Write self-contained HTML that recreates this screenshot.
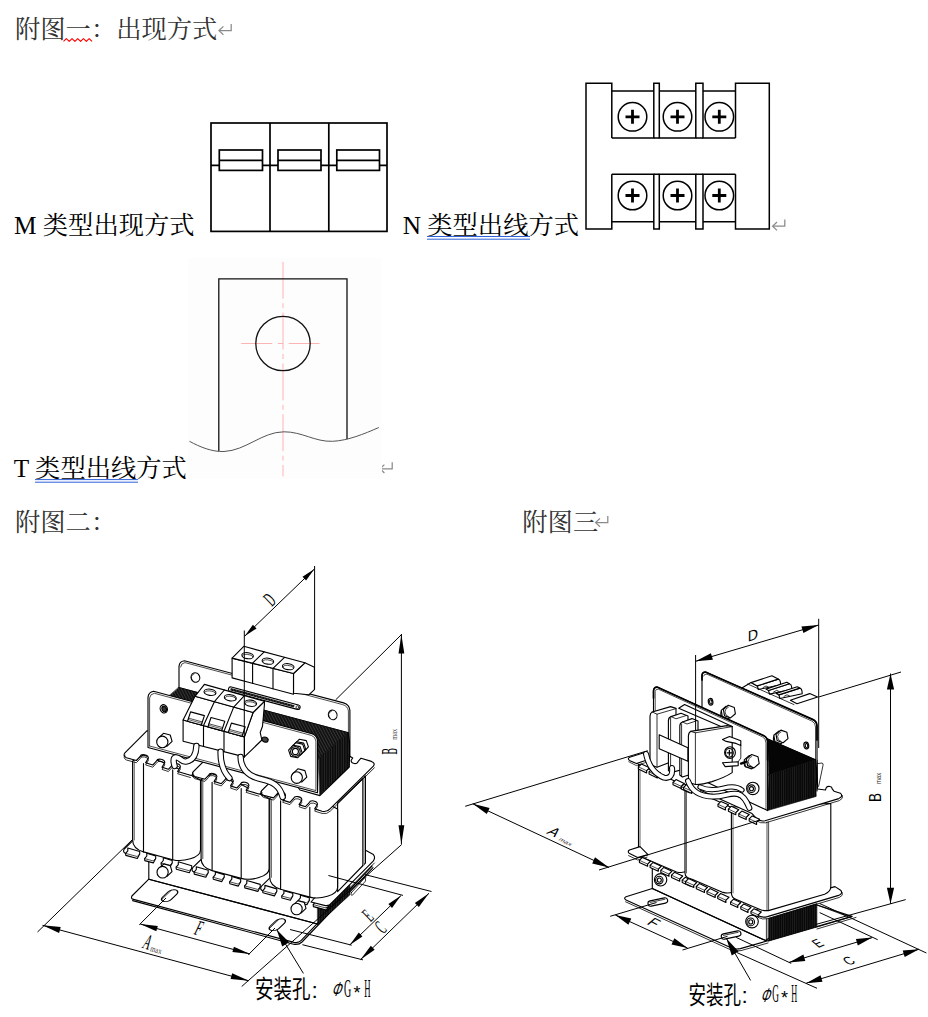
<!DOCTYPE html>
<html><head><meta charset="utf-8"><title>doc</title>
<style>html,body{margin:0;padding:0;background:#fff}body{width:928px;height:1017px;overflow:hidden;font-family:"Liberation Serif","Noto Serif CJK SC",serif}svg{display:block}text{font-family:"Liberation Serif","Noto Serif CJK SC",serif}.sans{font-family:"Liberation Sans","Noto Sans CJK SC",sans-serif}</style></head><body>
<svg width="928" height="1017" viewBox="0 0 928 1017">
<desc>附图一：出现方式 M 类型出现方式 N 类型出线方式 T 类型出线方式 附图二： 附图三 A max B max C D E F 安装孔: ΦG*H</desc>
<rect width="928" height="1017" fill="#fff"/>
<g id="text">
<text x="15" y="37.5" font-size="25.3" fill="#333">附图一：出现方式</text>
<path d="M63.5,41.4 l2.85,-2.8 l2.85,2.8 l2.85,-2.8 l2.85,2.8 l2.85,-2.8 l2.85,2.8 l2.85,-2.8 l2.85,2.8 l2.85,-2.8 l2.85,2.8" fill="none" stroke="#f00" stroke-width="1.1" stroke-linejoin="round"/>
<g fill="none" stroke="#8a8a8a" stroke-width="1.25"><path d="M231.2,24.0 V30.6 H219.2"/><path d="M223.4,26.400000000000002 L219.0,30.6 L223.4,34.800000000000004"/></g>
<text x="14" y="233.8" font-size="25.3" fill="#000">M 类型出现方式</text>
<text x="402.7" y="233.8" font-size="25.3" fill="#000">N 类型出线方式</text>
<path d="M427,236.5H530M427,239.2H530" stroke="#2f62d9" stroke-width="1" fill="none"/>
<g fill="none" stroke="#8a8a8a" stroke-width="1.25"><path d="M784.8000000000001,219.6 V226.2 H772.8000000000001"/><path d="M777.0,222.0 L772.6,226.2 L777.0,230.39999999999998"/></g>
<text x="13.8" y="476.5" font-size="25.3" fill="#000">T 类型出线方式</text>
<path d="M35,479.6H138M35,482.2H138" stroke="#2f62d9" stroke-width="1" fill="none"/>
<g fill="none" stroke="#8a8a8a" stroke-width="1.25"><path d="M392.20000000000005,462.2 V468.8 H380.20000000000005"/><path d="M384.40000000000003,464.6 L380.0,468.8 L384.40000000000003,473.0"/></g>
<text x="15" y="530.7" font-size="25.3" fill="#333">附图二：</text>
<text x="522.3" y="530.7" font-size="25.3" fill="#333">附图三</text>
<g fill="none" stroke="#8a8a8a" stroke-width="1.25"><path d="M607.8000000000001,516.0 V522.6 H595.8000000000001"/><path d="M600.0,518.4 L595.6,522.6 L600.0,526.8000000000001"/></g>
</g>
<g id="top">
<!-- M type -->
<g fill="none" stroke="#000" stroke-width="1.7" stroke-linejoin="miter">
<rect x="211" y="123" width="176" height="108.4"/>
<path d="M270,123V231.4M328.8,123V231.4"/>
<path d="M211,165.4H219.3M262.5,165.4H278M321,165.4H336.8M379.5,165.4H387"/>
<rect x="219.3" y="150" width="43.2" height="20.4"/><path d="M219.3,160.4H262.5"/>
<rect x="278" y="150" width="43" height="20.4"/><path d="M278,160.4H321"/>
<rect x="336.8" y="150" width="42.7" height="20.4"/><path d="M336.8,160.4H379.5"/>
</g>
<!-- N type -->
<g fill="none" stroke="#000" stroke-width="1.5" stroke-linejoin="miter">
<path d="M611.8,138V83.3H586V229H611.8V174.3"/>
<path d="M735.5,138V83.3H769.3V229H735.5V174.3"/>
<path d="M611.8,91H653.8M659.3,91H695.8M703,91H735.5"/>
<path d="M611.8,138H653.8V83.3H659.3V138H695.8V83.3H703V138H735.5"/>
<path d="M659.3,138H653.8M703,138H695.8"/>
<path d="M611.8,174.3H653.8V229H659.3V174.3H695.8V229H703V174.3H735.5"/>
<path d="M659.3,174.3H653.8M703,174.3H695.8"/>
<path d="M611.8,221.8H653.8M659.3,221.8H695.8M703,221.8H735.5"/>
<circle cx="632.5" cy="116.8" r="14.3"/><circle cx="677.5" cy="116.8" r="14.3"/><circle cx="719.3" cy="116.8" r="14.3"/>
<circle cx="632.5" cy="195.5" r="14.3"/><circle cx="677.5" cy="195.5" r="14.3"/><circle cx="719.3" cy="195.5" r="14.3"/>
</g>
<g fill="none" stroke="#000" stroke-width="2.8">
<path d="M625.5,116.8H639.5M632.5,109.8V123.8M670.5,116.8H684.5M677.5,109.8V123.8M712.3,116.8H726.3M719.3,109.8V123.8"/>
<path d="M625.5,195.5H639.5M632.5,188.5V202.5M670.5,195.5H684.5M677.5,188.5V202.5M712.3,195.5H726.3M719.3,188.5V202.5"/>
</g>
<!-- T type -->
<rect x="188" y="258" width="194" height="221" fill="#fdfdfd"/>
<g fill="none" stroke="#ffb4b4" stroke-width="1">
<path d="M283,261.8V476.3" stroke-dasharray="37 4.4 5 4.4"/>
<path d="M241.3,343.5H319.5" stroke-dasharray="31 5.6 5.2 5.6"/>
</g>
<g fill="none" stroke="#111" stroke-width="1.3">
<path d="M218.8,451.3V278.8H347V439.3"/>
<circle cx="283" cy="343.5" r="27.2"/>
</g>
<path d="M189.5,441.3C200,447 212,452 224,451.5C246,450.5 262,432 283.8,431.8C302,431.6 315,442 332.5,441.3C348,440.6 364,434 378.8,427.5" fill="none" stroke="#555" stroke-width="1"/>

</g>
<g id="left">
<defs><pattern id="hv" width="2.4" height="8" patternUnits="userSpaceOnUse"><rect width="2.4" height="8" fill="#0c0c0c"/><path d="M0.4,0V8" stroke="#4a4a4a" stroke-width="0.45"/></pattern><pattern id="hd" width="2.6" height="8" patternUnits="userSpaceOnUse" patternTransform="rotate(-28)"><rect width="2.6" height="8" fill="#121212"/><path d="M0.4,0V8" stroke="#5a5a5a" stroke-width="0.5"/></pattern><pattern id="hv2" width="2.2" height="8" patternUnits="userSpaceOnUse"><rect width="2.2" height="8" fill="#080808"/><path d="M0.4,0V8" stroke="#3c3c3c" stroke-width="0.4"/></pattern></defs>
<g fill="#fff" stroke="#000" stroke-width="1.12" stroke-linejoin="round" stroke-linecap="round">
<path d="M148.8,879.2 L131.9,896 Q130.6,898.6 133.5,899.4 L294,942.4 Q298.5,943.2 301,940.6 L372,866 L317.5,924 Z"/>
<path d="M148.8,879.2 L317.5,924" fill="none"/>
<path d="M132.6,900.6 L293.6,944.2 Q299,945 302,942 L373,867.6" fill="none"/>
<path d="M148.8,859 V879.2" fill="none"/>
<rect x="-8.3" y="-4.5" width="16.6" height="9.0" rx="4.5" transform="matrix(0.72 -0.69 0.966 0.259 169.6 895.7)"/><path d="M-7.1000000000000005,-3.2 H6.700000000000001" transform="matrix(0.72 -0.69 0.966 0.259 169.6 895.7)" fill="none" stroke-width="0.7"/>
<rect x="-8.3" y="-4.5" width="16.6" height="9.0" rx="4.5" transform="matrix(0.72 -0.69 0.966 0.259 277.3 924.7)"/><path d="M-7.1000000000000005,-3.2 H6.700000000000001" transform="matrix(0.72 -0.69 0.966 0.259 277.3 924.7)" fill="none" stroke-width="0.7"/>
<path d="M351.4,892.6 L364.6,878 Q366.6,876 365.4,878.6 L365.6,881 L352.4,895.2 Q350.4,896 351.4,892.6Z" stroke-width="0.8"/>
</g>
<g fill="#fff" stroke="#000" stroke-width="1.12" stroke-linejoin="round" stroke-linecap="round">
<path d="M179,690 V666.4 Q179.4,661.4 184.4,660.8 L343.6,702.9 Q349.4,704.6 349.9,710.4 V766 L348.4,732.7 L178.8,687.5 Z"/>
<path d="M180.6,667 Q181,663 185,662.6 L342.6,704.6 Q347.8,706 348.4,711 V733" fill="none" stroke-width="0.7"/>
<ellipse cx="195.4" cy="677.5" rx="4.3" ry="4.8" fill="none" transform="rotate(-20 195.4 677.5)"/>
<path d="M193.2,681.1 A3.6,4 -20 0 1 194,673.9" fill="none" stroke-width="0.7"/>
<ellipse cx="332.7" cy="714.9" rx="4.3" ry="4.8" fill="none" transform="rotate(-20 332.7 714.9)"/>
<path d="M330.5,718.5 A3.6,4 -20 0 1 331.3,711.3" fill="none" stroke-width="0.7"/>
<rect x="-37" y="-2.3" width="74" height="4.6" rx="2.3" transform="matrix(0.966 0.259 -0.259 0.966 264.3 698.2)"/>
<rect x="-35" y="-1.1" width="66" height="2.4" fill="url(#hd)" stroke="none" transform="matrix(0.966 0.259 -0.259 0.966 264.3 698.2)"/>
<circle cx="34.4" cy="0.2" r="1.5" transform="matrix(0.966 0.259 -0.259 0.966 264.3 698.2)" stroke-width="0.7"/>
<path d="M293.5,673.5 L304.9,662.8 L314.4,667.2 V689.6 L308.8,694.8 L293.5,693.3Z"/>
<path d="M232.1,658.1L293.5,673.5L293.5,694.2L232.1,677.9Z" fill="#fff"/>
<path d="M232.1,658.1L243.8,646.3L304.9,662.8L293.5,673.5Z" fill="#fff"/>
<path d="M264.2,651.8 L252.6,663.2 V683.3" fill="none"/>
<path d="M284.5,657.3 L273,668.4 V688.8" fill="none"/>
<ellipse cx="247.6" cy="655.7" rx="5.8" ry="3" fill="none" transform="rotate(8 247.6 655.7)"/>
<path d="M242.4,656.3 A5.4,2.4 8 0 1 253,656.9" fill="none" stroke-width="0.7"/>
<ellipse cx="267.9" cy="661.2" rx="5.8" ry="3" fill="none" transform="rotate(8 267.9 661.2)"/>
<path d="M262.7,661.8 A5.4,2.4 8 0 1 273.3,662.4" fill="none" stroke-width="0.7"/>
<ellipse cx="288.2" cy="666.7" rx="5.8" ry="3" fill="none" transform="rotate(8 288.2 666.7)"/>
<path d="M283,667.3 A5.4,2.4 8 0 1 293.6,667.9" fill="none" stroke-width="0.7"/>
<path d="M178.8,687.5 L348.4,732.7 L318.4,759 L148.8,713.8Z" fill="url(#hd)" stroke="#000" stroke-width="0.6"/>
<path d="M318.4,759 L348.4,732.7 L349.3,767 L319.9,795.6Z" fill="url(#hv)" stroke="#000" stroke-width="0.6"/>
<path d="M317.7,906.6 L349.8,884.6 L349.8,894.9 L317.7,924.4Z" fill="url(#hv)" stroke="#000" stroke-width="0.6"/>
<path d="M132.6,840.8 L124.2,849 Q122.4,852 125.6,853.4 " fill="none"/>
<path d="M127.8,850.8 L125.6,853.4 L125.8,855.4 L137.3,858.5 L139.7,854.1 L139.7,851.5 L127.8,848Z"/>
<path d="M125.6,853.4 L137.1,856.5 L139.7,854.1" fill="none" stroke-width="0.7"/>
<path d="M146.8,856 L144.6,858.6 L144.8,860.6 L153.3,862.9 L155.7,858.5 L155.7,855.9 L146.8,853.2Z"/>
<path d="M144.6,858.6 L153.1,860.9 L155.7,858.5" fill="none" stroke-width="0.7"/>
<path d="M163.3,860.5 L161.1,863.1 L161.3,865.1 L169.8,867.4 L172.2,863 L172.2,860.4 L163.3,857.7Z"/>
<path d="M161.1,863.1 L169.6,865.4 L172.2,863" fill="none" stroke-width="0.7"/>
<path d="M178.3,864.6 L176.1,867.2 L176.3,869.2 L189.3,872.7 L191.7,868.3 L191.7,865.7 L178.3,861.8Z"/>
<path d="M176.1,867.2 L189.1,870.7 L191.7,868.3" fill="none" stroke-width="0.7"/>
<path d="M201.1,859.5 L192.7,867.7 Q190.9,870.7 194.1,872.1 " fill="none"/>
<path d="M196.3,869.5 L194.1,872.1 L194.3,874.1 L205.8,877.2 L208.2,872.8 L208.2,870.2 L196.3,866.7Z"/>
<path d="M194.1,872.1 L205.6,875.2 L208.2,872.8" fill="none" stroke-width="0.7"/>
<path d="M215.3,874.7 L213.1,877.3 L213.3,879.3 L221.8,881.6 L224.2,877.2 L224.2,874.6 L215.3,871.9Z"/>
<path d="M213.1,877.3 L221.6,879.6 L224.2,877.2" fill="none" stroke-width="0.7"/>
<path d="M231.8,879.2 L229.6,881.8 L229.8,883.8 L238.3,886.1 L240.7,881.7 L240.7,879.1 L231.8,876.4Z"/>
<path d="M229.6,881.8 L238.1,884.1 L240.7,881.7" fill="none" stroke-width="0.7"/>
<path d="M246.8,883.3 L244.6,885.9 L244.8,887.9 L257.8,891.4 L260.2,887 L260.2,884.4 L246.8,880.5Z"/>
<path d="M244.6,885.9 L257.6,889.4 L260.2,887" fill="none" stroke-width="0.7"/>
<path d="M269.7,878.2 L261.3,886.4 Q259.5,889.4 262.7,890.8 " fill="none"/>
<path d="M264.9,888.2 L262.7,890.8 L262.9,892.8 L274.4,895.9 L276.8,891.5 L276.8,888.9 L264.9,885.4Z"/>
<path d="M262.7,890.8 L274.2,893.9 L276.8,891.5" fill="none" stroke-width="0.7"/>
<path d="M283.9,893.4 L281.7,896 L281.9,898 L290.4,900.3 L292.8,895.9 L292.8,893.3 L283.9,890.6Z"/>
<path d="M281.7,896 L290.2,898.3 L292.8,895.9" fill="none" stroke-width="0.7"/>
<path d="M300.4,897.9 L298.2,900.5 L298.4,902.5 L306.9,904.8 L309.3,900.4 L309.3,897.8 L300.4,895.1Z"/>
<path d="M298.2,900.5 L306.7,902.8 L309.3,900.4" fill="none" stroke-width="0.7"/>
<path d="M315.4,902 L313.2,904.6 L313.4,906.6 L326.4,910.1 L328.8,905.7 L328.8,903.1 L315.4,899.2Z"/>
<path d="M313.2,904.6 L326.2,908.1 L328.8,905.7" fill="none" stroke-width="0.7"/>
<path d="M311,902 L325.4,905.6 Q329.6,906 331.6,902.8 L373.2,861.2 Q375.8,857.6 373.4,854.6 L366,850.6 L330,880Z"/>
<path d="M326,907.6 Q331,908 333,904.8 L374.4,863" fill="none" stroke-width="0.8"/>
<path d="M337.6,803 V891.6 L365.4,863 V776 Z"/>
<path d="M363.6,778 V865" fill="none" stroke="#888" stroke-width="1.4"/>
<path d="M362.6,779 V866 M365.4,776 V862.6" fill="none" stroke-width="0.8"/>
<path d="M132.6,761 V839.7 C132.6,846.7 138.5,850.4 143.5,851.9 L172.7,859.7 C182.7,862.3 200.5,858 200.5,850 V779.9 L172.7,765.9 L143.5,755Z"/>
<path d="M134.2,762V840" fill="none" stroke-width="0.7"/>
<path d="M143.5,763.5V851.9M172.7,769.9V859.7" fill="none"/>
<path d="M201.1,779.7 V858.4 C201.1,865.4 207.1,869.1 212.1,870.6 L241.2,878.4 C251.2,881 269.1,876.7 269.1,868.7 V798.6 L241.2,784.6 L212.1,773.7Z"/>
<path d="M202.8,780.7V858.7" fill="none" stroke-width="0.7"/>
<path d="M212.1,782.2V870.6M241.2,788.6V878.4" fill="none"/>
<path d="M269.7,798.4 V877.1 C269.7,884.1 275.6,887.8 280.6,889.3 L309.8,897.1 C319.8,899.7 337.6,895.4 337.6,887.4 V809 L309.8,795 L280.6,792.4Z"/>
<path d="M271.3,799.4V877.4" fill="none" stroke-width="0.7"/>
<path d="M280.6,800.9V889.3M309.8,807.3V897.1" fill="none"/>
<path d="M172,871.6L167.3,876.1L160.9,874.4L159.2,868.4L163.9,863.9L170.3,865.6Z" fill="#fff"/><ellipse cx="162.6" cy="872.2" rx="5.6" ry="5.8" fill="#fff"/>
<path d="M306,908.4L301.3,912.9L294.9,911.2L293.2,905.2L297.9,900.7L304.3,902.4Z" fill="#fff"/><ellipse cx="296.6" cy="909" rx="5.6" ry="5.8" fill="#fff"/>
<path d="M147.1,730.7 L124.9,752.9 Q122.7,755.7 126.4,757.8 L136.4,760.5 l3.6,-3.9 a4.3,3 12 0 1 8.4,1.5 l-2.8,4.6 L152.8,765 l3.6,-3.9 a4.3,3 12 0 1 8.4,1.5 l-2.8,4.6 L168.4,769.3 l3.6,-3.9 a4.3,3 12 0 1 8.4,1.5 l-2.8,4.6 L190.4,775.3 Q193,775.5 192.6,772.7 L214.4,751.3Z"/>
<path d="M124.9,755.1 Q122.7,757.9 126.4,760 L136.4,762.7 l3.6,-3.9 a4.3,3 12 0 1 8.4,1.5 l-2.8,4.6 L152.8,767.2 l3.6,-3.9 a4.3,3 12 0 1 8.4,1.5 l-2.8,4.6 L168.4,771.5 l3.6,-3.9 a4.3,3 12 0 1 8.4,1.5 l-2.8,4.6 L190.4,777.5 " fill="none" stroke-width="0.8"/>
<path d="M215.7,749.4 L193.4,771.6 Q191.2,774.4 194.9,776.5 L204.9,779.2 l3.6,-3.9 a4.3,3 12 0 1 8.4,1.5 l-2.8,4.6 L221.3,783.7 l3.6,-3.9 a4.3,3 12 0 1 8.4,1.5 l-2.8,4.6 L236.9,788 l3.6,-3.9 a4.3,3 12 0 1 8.4,1.5 l-2.8,4.6 L258.9,794 Q261.6,794.2 261.1,791.4 L282.9,770Z"/>
<path d="M193.4,773.8 Q191.2,776.6 194.9,778.7 L204.9,781.4 l3.6,-3.9 a4.3,3 12 0 1 8.4,1.5 l-2.8,4.6 L221.3,785.9 l3.6,-3.9 a4.3,3 12 0 1 8.4,1.5 l-2.8,4.6 L236.9,790.2 l3.6,-3.9 a4.3,3 12 0 1 8.4,1.5 l-2.8,4.6 L258.9,796.2 " fill="none" stroke-width="0.8"/>
<path d="M284.2,768.1 L262,790.3 Q259.8,793.1 263.5,795.2 L273.5,797.9 l3.6,-3.9 a4.3,3 12 0 1 8.4,1.5 l-2.8,4.6 L289.9,802.4 l3.6,-3.9 a4.3,3 12 0 1 8.4,1.5 l-2.8,4.6 L305.5,806.7 l3.6,-3.9 a4.3,3 12 0 1 8.4,1.5 l-2.8,4.6 L322,811.2 Q327,812.4 330,808.8 L373.4,766.2 Q375.6,763.2 371.4,761.4 L361,758.2 l-3,3.4 a3.4,2.6 15 0 1 -6.8,-1.4 l1.5,-2.2 L349.5,756 L349.3,767 L319.9,795.6 L300,790Z"/>
<path d="M262,792.5 Q259.8,795.3 263.5,797.4 L273.5,800.1 l3.6,-3.9 a4.3,3 12 0 1 8.4,1.5 l-2.8,4.6 L289.9,804.6 l3.6,-3.9 a4.3,3 12 0 1 8.4,1.5 l-2.8,4.6 L305.5,808.9 l3.6,-3.9 a4.3,3 12 0 1 8.4,1.5 l-2.8,4.6 L322,813.4 Q327,814.6 330.4,811 L374.4,767.8" fill="none" stroke-width="0.8"/>
<path d="M148,747.5 V697.4 Q148.4,692.2 153.6,691.3 L312,733.7 Q317,735.4 317.5,740.6 V792.8 Z"/>
<path d="M149.6,746 V698 Q150,694 154.4,693.3 L311.4,735.4 Q315.4,736.8 315.9,741 V790.6 L149.6,746" fill="none" stroke-width="0.7"/>
<ellipse cx="163.8" cy="708.8" rx="3.6" ry="4.2" fill="none" transform="rotate(-20 163.8 708.8)"/>
<ellipse cx="164.2" cy="709" rx="2.2" ry="2.8" fill="#333" transform="rotate(-20 164.2 709)"/>
<path d="M172.1,741.4L167.1,746.1L160.4,744.4L158.5,738L163.5,733.3L170.2,735Z" fill="#fff"/><ellipse cx="162.3" cy="741.9" rx="5.6" ry="5.8" fill="#fff"/>
<path d="M308.4,746.9L303.8,751.8L296.9,750.4L294.8,744.1L299.4,739.2L306.3,740.6Z" fill="#fff"/><path d="M305.8,749.4L301.2,754.3L294.3,752.9L292.2,746.6L296.8,741.7L303.7,743.1Z" fill="#fff"/><path d="M304.8,750.4L300.2,755.3L293.3,753.9L291.2,747.6L295.8,742.7L302.7,744.1Z" fill="#fff"/><path d="M302.2,752.9L297.6,757.8L290.7,756.4L288.6,750.1L293.2,745.2L300.1,746.6Z" fill="#fff"/><ellipse cx="295.4" cy="751.5" rx="4.8" ry="4.9" fill="#fff"/><ellipse cx="295.4" cy="751.5" rx="3" ry="3.1" fill="#fff"/>
<path d="M306.8,777.2L301.7,782L294.7,780.2L292.8,773.6L297.9,768.8L304.9,770.6Z" fill="#fff"/><ellipse cx="296.8" cy="777.6" rx="5.6" ry="5.8" fill="#fff"/>
<path d="M253.1,712.5 L264.4,701.3 V705 L262.5,726.3 L260.2,732.5 L261.9,740 L244.4,756.9 L244.4,736.9Z"/>
<path d="M183.1,720L244.4,736.9L244.4,756.9L183.1,741.3Z" fill="#fff"/>
<path d="M195,696.3L253.1,712.5L244.4,736.9L183.1,720Z" fill="#fff"/>
<path d="M195,696.3L204.4,684.4L264.4,701.3L253.1,712.5Z" fill="#fff"/>
<path d="M224.4,690 L214.4,701.7 L203.5,725.6 L203.5,746.5" fill="none"/>
<path d="M244.4,695.7 L233.7,707.1 L224,731.3 L224,751.7" fill="none"/>
<ellipse cx="210" cy="692.3" rx="6" ry="3.1" fill="none" transform="rotate(8 210 692.3)"/>
<path d="M204.6,693 A5.6,2.5 8 0 1 215.6,693.6" fill="none" stroke-width="0.7"/>
<path d="M190.6,711.9L204.4,715.6L201.3,725L187.5,721.3Z" fill="#fff"/>
<path d="M188.6,718.2 L202.2,721.9" fill="none" stroke-width="0.7"/>
<path d="M188.3,719.6 L201.7,723.3" fill="none" stroke-width="0.6"/>
<ellipse cx="230.3" cy="697.8" rx="6" ry="3.1" fill="none" transform="rotate(8 230.3 697.8)"/>
<path d="M224.9,698.5 A5.6,2.5 8 0 1 235.9,699" fill="none" stroke-width="0.7"/>
<path d="M211,717.5L224.8,721.2L221.7,730.6L207.9,726.9Z" fill="#fff"/>
<path d="M209,723.8 L222.6,727.5" fill="none" stroke-width="0.7"/>
<path d="M208.7,725.2 L222.1,728.9" fill="none" stroke-width="0.6"/>
<ellipse cx="250.6" cy="703.2" rx="6" ry="3.1" fill="none" transform="rotate(8 250.6 703.2)"/>
<path d="M245.2,703.9 A5.6,2.5 8 0 1 256.2,704.5" fill="none" stroke-width="0.7"/>
<path d="M231.4,723.1L245.2,726.8L242.1,736.2L228.3,732.5Z" fill="#fff"/>
<path d="M229.4,729.4 L243,733.1" fill="none" stroke-width="0.7"/>
<path d="M229.1,730.8 L242.5,734.5" fill="none" stroke-width="0.6"/>
<ellipse cx="265" cy="739.6" rx="3.2" ry="2.4" fill="#444" transform="rotate(20 265 739.6)"/>
<path d="M196.4,746 C196,756 192,760.6 186,761.6 C181,762.4 180,756.6 175.6,757.4 C172.6,758 173.6,762.6 174.6,766" fill="none" stroke="#000" stroke-width="6.4"/><path d="M196.4,746 C196,756 192,760.6 186,761.6 C181,762.4 180,756.6 175.6,757.4 C172.6,758 173.6,762.6 174.6,766" fill="none" stroke="#fff" stroke-width="4.3"/>
<path d="M220.6,751.6 C220.4,762 222.6,771 229.4,778" fill="none" stroke="#000" stroke-width="6.4"/><path d="M220.6,751.6 C220.4,762 222.6,771 229.4,778" fill="none" stroke="#fff" stroke-width="4.3"/>
<path d="M240.6,757 C241,770 249,776.6 262,779.4 C273,781.8 280,786 282.6,797" fill="none" stroke="#000" stroke-width="6.4"/><path d="M240.6,757 C241,770 249,776.6 262,779.4 C273,781.8 280,786 282.6,797" fill="none" stroke="#fff" stroke-width="4.3"/>
</g>
<g fill="none" stroke="#000" stroke-width="1" stroke-linecap="butt">
<path d="M132.5,839.5L37.5,932"/>
<path d="M401.6,844.6L241.7,986.5"/>
<path d="M42.5,925.3L248.8,980.8"/><path d="M42.5,925.3L59.1,932.9L60.7,927.1Z" fill="#000" stroke="none"/><path d="M248.8,980.8L232.2,973.2L230.6,979Z" fill="#000" stroke="none"/>
<path d="M166,898L139.3,924.8"/>
<path d="M275,928L248.3,954.8"/>
<path d="M140.2,924L250,954"/><path d="M140.2,924L156.3,931.3L157.8,925.9Z" fill="#000" stroke="none"/><path d="M250,954L233.9,946.7L232.4,952.1Z" fill="#000" stroke="none"/>
<path d="M335.5,700L402,634"/>
<path d="M401.4,634.5L401.4,844.3"/><path d="M401.4,634.5L398.5,653.5L404.3,653.5Z" fill="#000" stroke="none"/><path d="M401.4,844.3L404.3,825.3L398.5,825.3Z" fill="#000" stroke="none"/>
<path d="M365,874.6L431.5,891.5"/>
<path d="M302.4,944.7L363,959.9"/>
<path d="M429,893.2L360.6,959.6"/><path d="M429,893.2L414.9,903L418.8,907.1Z" fill="#000" stroke="none"/><path d="M360.6,959.6L374.7,949.8L370.8,945.7Z" fill="#000" stroke="none"/>
<path d="M328.4,875.5L403,895.4"/>
<path d="M290,929.5L351.7,945.2"/>
<path d="M401,895.6L349.8,944.9"/><path d="M401,895.6L388.4,904.1L392,907.9Z" fill="#000" stroke="none"/><path d="M349.8,944.9L362.4,936.4L358.8,932.6Z" fill="#000" stroke="none"/>
<path d="M244.3,630.5L244.3,757.5"/>
<path d="M314.6,566L314.6,689.5"/>
<path d="M244.6,636.3L314.4,569"/><path d="M244.6,636.3L256.5,628.5L252.9,624.7Z" fill="#000" stroke="none"/><path d="M314.4,569L302.5,576.8L306.1,580.6Z" fill="#000" stroke="none"/>
<path d="M276.8,929.8L303.4,973.4"/>
<path d="M276.8,929.8L282.2,946.4L289.1,942.2Z" fill="#000" stroke="none"/>
</g>
<g>
<text transform="translate(196 934.8) rotate(15) skewX(-10) scale(0.5 1)" x="0" y="0" font-size="21.8" text-anchor="middle" fill="#000">F</text>
<text transform="translate(144.8 948.8) rotate(15) skewX(-10) scale(0.47 1)" x="0" y="0" font-size="21.8" text-anchor="middle" fill="#000">A</text>
<text transform="translate(155.4 952.6) rotate(15) scale(0.78 1)" x="0" y="0" font-size="8.7" text-anchor="middle" fill="#444">max</text>
<text transform="translate(397.4 751.3) rotate(-90) scale(0.43 1)" x="0" y="0" font-size="22.7" text-anchor="middle" fill="#000">B</text>
<text transform="translate(397.4 734.2) rotate(-90) scale(0.73 1)" x="0" y="0" font-size="8.7" text-anchor="middle" fill="#444">max</text>
<text transform="translate(372.6 920.4) rotate(-44) scale(0.46 1)" x="0" y="0" font-size="20.8" text-anchor="middle" fill="#000">E</text>
<text transform="translate(385.4 932.4) rotate(-44) scale(0.46 1)" x="0" y="0" font-size="20.8" text-anchor="middle" fill="#000">C</text>
<text transform="translate(274.4 604.4) rotate(-44) scale(0.48 1)" x="0" y="0" font-size="20.8" text-anchor="middle" fill="#000">D</text>
<text class="sans" transform="translate(255 998) scale(0.74 1)" x="0" y="0" font-size="25" fill="#000">安装孔</text>
<text class="sans" x="314.7" y="997.7" font-size="22.6" text-anchor="middle" fill="#000">:</text>
<text class="sans" transform="translate(335.8 996) skewX(-18) scale(0.6 1)" x="0" y="0" font-size="20" text-anchor="middle" fill="#000">Φ</text>
<text transform="translate(347.7 996.6) scale(0.4 1)" x="0" y="0" font-size="25" text-anchor="middle" fill="#000">G</text>
<text class="sans" x="357.1" y="998.5" font-size="18" text-anchor="middle" fill="#000">*</text>
<text transform="translate(367.4 996.6) scale(0.35 1)" x="0" y="0" font-size="25" text-anchor="middle" fill="#000">H</text>
</g>
</g>
<g id="right">
<g fill="#fff" stroke="#000" stroke-width="1.12" stroke-linejoin="round" stroke-linecap="round">
<path d="M652.3,888.5 L626,896.7 Q623.2,898.2 626,900 L731,947.8 Q735.6,949.8 740.4,948.6 L767,941 L852,916.4 L817,905 L765.6,940.5 Z"/>
<path d="M652.3,888.5 L765.6,940.5" fill="none"/>
<path d="M625.6,901.8 L730.6,949.8 Q735.6,951.8 741,950.6 L768,943" fill="none" stroke-width="0.8"/>
<path d="M652.3,868.3 V888.5" fill="none"/>
<path d="M817,927 L852,916.6 M817,929 L856,917.4 M818,905.4 L846,915.8" fill="none" stroke-width="0.8"/>
<rect x="647.8" y="899.3" width="20" height="5.4" rx="2.7" transform="rotate(-12 657.8 902)"/><path d="M650.2,900.8 H665.4" transform="rotate(-12 657.8 902)" fill="none" stroke-width="0.7"/>
<rect x="721.1" y="932.3" width="20" height="5.4" rx="2.7" transform="rotate(-12 731.1 935)"/><path d="M723.5,933.8 H738.7" transform="rotate(-12 731.1 935)" fill="none" stroke-width="0.7"/>
<path d="M768.4,918.4 L816.9,903.5 L816.9,927 L768.4,941.2Z" fill="url(#hv2)" stroke-width="0.6"/>
<path d="M766.4,919 V940.8" fill="none" stroke-width="0.8"/>
<path d="M752,911 L758,915.6 Q762,918 767.4,916.6 L838.6,895.4 Q843.4,893.4 840.6,890.2 L835,886.6 L770,905Z"/>
<path d="M758.4,917.6 Q762.4,920 768,918.6 L839.4,897.4 Q843.6,895.6 842.4,892.6" fill="none" stroke-width="0.8"/>
<path d="M638.5,764.3 V852.6 C638.5,856.6 641.5,857.6 645.6,858.8 L676.5,872 C681.5,873.2 688.5,871.6 692.5,869.6 V789.3Z"/><path d="M640,764.9 V852.6" fill="none" stroke-width="0.6"/>
<path d="M685,786.1 V873 C685,877 688,878 692.1,879.2 L723,892.4 C728,893.6 735,892 739,890 V811.1Z"/><path d="M686.5,786.7 V873" fill="none" stroke-width="0.6"/>
<path d="M731.4,807 V893 C731.4,897 733.6,898.6 736.4,899.6 L760,909.4 Q764,911 768.4,910.6 L824.6,894.2 Q830.8,892 830.8,886.6 V803.5 Z"/>
<path d="M767,822 V910.6 M768.6,822 V910.4" fill="none" stroke-width="0.7"/>
<path d="M733,808 V893" fill="none" stroke-width="0.6"/>
<path d="M640,846.6 L629.4,850 Q627,851.8 629.6,853.6 L637.6,857.6 L648,854.6Z"/>
<path d="M628.6,855.6 L637.6,860 L647,857.2" fill="none" stroke-width="0.8"/>
<path d="M642.4,857.4L650.6,861.2L647.6,864.1L647.6,866.3L639.4,862.5L639.4,860.3Z" fill="#fff"/><path d="M639.4,860.3 L647.6,864.1 L650.6,861.2" fill="none" stroke-width="0.7"/><path d="M653.1,862.4L661.3,866.2L658.3,869.1L658.3,871.3L650.1,867.5L650.1,865.3Z" fill="#fff"/><path d="M650.1,865.3 L658.3,869.1 L661.3,866.2" fill="none" stroke-width="0.7"/><path d="M663.8,867.4L672,871.2L669,874.1L669,876.3L660.8,872.5L660.8,870.3Z" fill="#fff"/><path d="M660.8,870.3 L669,874.1 L672,871.2" fill="none" stroke-width="0.7"/><path d="M674.5,872.3L682.7,876.1L679.7,879L679.7,881.2L671.5,877.4L671.5,875.2Z" fill="#fff"/><path d="M671.5,875.2 L679.7,879 L682.7,876.1" fill="none" stroke-width="0.7"/><path d="M685.2,877.3L693.4,881.1L690.4,884L690.4,886.2L682.2,882.4L682.2,880.2Z" fill="#fff"/><path d="M682.2,880.2 L690.4,884 L693.4,881.1" fill="none" stroke-width="0.7"/>
<path d="M688.6,878.6L696.8,882.4L693.8,885.3L693.8,887.5L685.6,883.7L685.6,881.5Z" fill="#fff"/><path d="M685.6,881.5 L693.8,885.3 L696.8,882.4" fill="none" stroke-width="0.7"/><path d="M699.3,883.6L707.5,887.4L704.5,890.3L704.5,892.5L696.3,888.7L696.3,886.5Z" fill="#fff"/><path d="M696.3,886.5 L704.5,890.3 L707.5,887.4" fill="none" stroke-width="0.7"/><path d="M710,888.6L718.2,892.4L715.2,895.3L715.2,897.5L707,893.7L707,891.5Z" fill="#fff"/><path d="M707,891.5 L715.2,895.3 L718.2,892.4" fill="none" stroke-width="0.7"/><path d="M720.7,893.5L728.9,897.3L725.9,900.2L725.9,902.4L717.7,898.6L717.7,896.4Z" fill="#fff"/><path d="M717.7,896.4 L725.9,900.2 L728.9,897.3" fill="none" stroke-width="0.7"/>
<path d="M733.6,899.2L740.8,902.5L737.8,905.4L737.8,907.6L730.6,904.3L730.6,902.1Z" fill="#fff"/><path d="M730.6,902.1 L737.8,905.4 L740.8,902.5" fill="none" stroke-width="0.7"/><path d="M743.8,903.9L751,907.3L748,910.2L748,912.4L740.8,909L740.8,906.8Z" fill="#fff"/><path d="M740.8,906.8 L748,910.2 L751,907.3" fill="none" stroke-width="0.7"/><path d="M754,908.7L761.2,912L758.2,914.9L758.2,917.1L751,913.8L751,911.6Z" fill="#fff"/><path d="M751,911.6 L758.2,914.9 L761.2,912" fill="none" stroke-width="0.7"/>
<ellipse cx="660.6" cy="879.8" rx="6.2" ry="6.2" fill="#fff"/><ellipse cx="659.3" cy="880.1" rx="3.7" ry="3.8" fill="#fff"/><ellipse cx="659.3" cy="880.1" rx="2" ry="2.1" fill="#fff"/>
<ellipse cx="752" cy="921.6" rx="6.3" ry="6.3" fill="#fff"/><ellipse cx="750.7" cy="921.9" rx="3.8" ry="3.9" fill="#fff"/><ellipse cx="750.7" cy="921.9" rx="2" ry="2.1" fill="#fff"/>
<path d="M700,790 L752,813.6 L756.4,818.4 Q760,821.8 765,820.8 L838.8,798.6 Q843.6,796.4 840.4,793.2 L834,791.2 l-2,-2.6 a3,2 0 0 0 -5.6,-1.2 l-1,2.6 L817.6,789 L817,760 L702,730Z"/>
<path d="M756.4,820.6 Q760,823.8 765.6,822.8 L839.4,800.6 Q843.4,798.8 842.6,795.6" fill="none" stroke-width="0.8"/>
<path d="M645.6,752.2 L629.6,757.2 Q627.2,758.8 629.4,760.4 L636.4,763.6 L647,760Z"/>
<path d="M628.8,761.8 L636.4,765.6 L646,762.4" fill="none" stroke-width="0.7"/>
<path d="M641.4,764L649.6,767.8L646.6,770.7L646.6,772.9L638.4,769.1L638.4,766.9Z" fill="#fff"/><path d="M638.4,766.9 L646.6,770.7 L649.6,767.8" fill="none" stroke-width="0.7"/><path d="M652.1,769L660.3,772.8L657.3,775.7L657.3,777.9L649.1,774.1L649.1,771.9Z" fill="#fff"/><path d="M649.1,771.9 L657.3,775.7 L660.3,772.8" fill="none" stroke-width="0.7"/><path d="M684.2,783.9L692.4,787.7L689.4,790.6L689.4,792.8L681.2,789L681.2,786.8Z" fill="#fff"/><path d="M681.2,786.8 L689.4,790.6 L692.4,787.7" fill="none" stroke-width="0.7"/>
<path d="M676,779.6L684.2,783.4L681.2,786.3L681.2,788.5L673,784.7L673,782.5Z" fill="#fff"/><path d="M673,782.5 L681.2,786.3 L684.2,783.4" fill="none" stroke-width="0.7"/><path d="M686.6,784.5L694.8,788.3L691.8,791.2L691.8,793.4L683.6,789.6L683.6,787.4Z" fill="#fff"/><path d="M683.6,787.4 L691.8,791.2 L694.8,788.3" fill="none" stroke-width="0.7"/>
<path d="M721,801.4L728.4,804.8L725.4,807.7L725.4,809.9L718,806.5L718,804.3Z" fill="#fff"/><path d="M718,804.3 L725.4,807.7 L728.4,804.8" fill="none" stroke-width="0.7"/><path d="M731.4,806.2L738.8,809.7L735.8,812.6L735.8,814.8L728.4,811.3L728.4,809.1Z" fill="#fff"/><path d="M728.4,809.1 L735.8,812.6 L738.8,809.7" fill="none" stroke-width="0.7"/><path d="M741.8,811.1L749.2,814.5L746.2,817.4L746.2,819.6L738.8,816.2L738.8,814Z" fill="#fff"/><path d="M738.8,814 L746.2,817.4 L749.2,814.5" fill="none" stroke-width="0.7"/><path d="M752.2,815.9L759.6,819.3L756.6,822.2L756.6,824.4L749.2,821L749.2,818.8Z" fill="#fff"/><path d="M749.2,818.8 L756.6,822.2 L759.6,819.3" fill="none" stroke-width="0.7"/>
</g>
<g fill="#fff" stroke="#000" stroke-width="1.12" stroke-linejoin="round" stroke-linecap="round">
<path d="M742.3,687.8 L751,682.5 L770.9,676.2 L778.2,679.1 L809.7,693.6 L818.6,697.6 L818.6,706 L790,709Z" stroke="none"/>
<path d="M742.3,687.8 L751,682.5 L757.3,685.9" fill="none"/>
<path d="M757.3,685.9 L778.2,679.1 Q780.2,679.7 780.4,682.1 L780.6,684.7 L758.3,689.5Z"/><path d="M757.3,685.9 L751,682.6 L771.9,675.8 L778.2,679.1Z"/>
<path d="M768.5,690.5 L789.4,683.7 Q791.4,684.3 791.6,686.7 L791.8,689.3 L769.5,694.1Z"/><path d="M768.5,690.5 L765.9,689.1 L786.8,682.3 L789.4,683.7Z"/>
<path d="M778.9,694.9 L799.8,688.1 Q801.8,688.7 802,691.1 L802.2,693.7 L779.9,698.5Z"/><path d="M778.9,694.9 L776.3,693.5 L797.2,686.7 L799.8,688.1Z"/>
<path d="M790.4,700.2 L809.7,693.6 L817.6,697 L797,703.8Z"/>
<path d="M747.6,684 L794,704.6 M763,687.6 l3,-1.6 l2.4,1 M773.6,692 l3,-1.6 l2.4,1 M784,696.4 l3,-1.6 l2.4,1" fill="none" stroke-width="0.8"/>
<path d="M702,710 V675.4 Q702.4,671.6 706,672.2 L812.6,719.4 Q817,721.4 817,726 V791 L815.5,759.8 L767.8,739.1 L702,710Z"/>
<path d="M703.6,676 Q704,673.6 707,674.2 L811.8,721 Q815.5,722.8 815.5,727 V760" fill="none" stroke-width="0.7"/>
<path d="M702,680 V675.4 Q702.4,671.6 706,672.2 L812.6,719.4 Q817,721.4 817,726 V740" fill="none" stroke-width="1.7"/>
<ellipse cx="710.6" cy="701.8" rx="2.3" ry="3.4" fill="none" transform="rotate(-10 710.6 701.8)"/>
<ellipse cx="710.8" cy="701.9" rx="1.2" ry="2.2" fill="none" transform="rotate(-10 710.8 701.9)"/>
<ellipse cx="806.3" cy="745.5" rx="2.4" ry="3.4" fill="none" transform="rotate(-10 806.3 745.5)"/>
<ellipse cx="806.5" cy="745.6" rx="1.2" ry="2.2" fill="none" transform="rotate(-10 806.5 745.6)"/>
<path d="M817.4,763.6 L822,763 Q823.6,763.4 823,765.4 L818.6,786.4" fill="none" stroke-width="0.8"/>
<path d="M767.8,739.1 L815.5,759.8 L768.5,774.8Z" fill="#050505" stroke-width="0.6"/>
<path d="M768.5,774.8 L815.5,759.8 L816.2,796.4 L767.4,810.6Z" fill="url(#hv2)" stroke-width="0.6"/>
<ellipse cx="723.4" cy="713.8" rx="2.6" ry="3.4" fill="#fff"/><path d="M733.2,714.8L728.3,718.9L722.3,716.7L721.2,710.4L726.1,706.3L732.1,708.5Z" fill="#fff"/><path d="M735.4,713.8L730.5,717.9L724.5,715.7L723.4,709.4L728.3,705.3L734.3,707.5Z" fill="#fff"/><path d="M728.4,707.1 A5.1,5.1 0 0 0 728.4,716.7" fill="none" stroke-width="0.7"/>
<ellipse cx="776" cy="738.6" rx="2.6" ry="3.4" fill="#fff"/><path d="M785.8,739.6L780.9,743.7L774.9,741.5L773.8,735.2L778.7,731.1L784.7,733.3Z" fill="#fff"/><path d="M788,738.6L783.1,742.7L777.1,740.5L776,734.2L780.9,730.1L786.9,732.3Z" fill="#fff"/><path d="M781,731.9 A5.1,5.1 0 0 0 781,741.5" fill="none" stroke-width="0.7"/>
<path d="M653.5,716 V691 Q653.8,686.6 657.6,687.2 L763.4,735.4 Q767.6,737.4 767.6,742 V810.6 L700,779 Z"/>
<path d="M655.2,716 V691.6 Q655.6,688.6 658.4,689.2 L762.4,736.8 Q766,738.6 766,743 V809" fill="none" stroke-width="0.7"/>
<path d="M653.5,698 V691 Q653.8,686.6 657.6,687.2 L763.4,735.4 Q767.6,737.4 767.6,742 V760" fill="none" stroke-width="1.7"/>
<ellipse cx="746.8" cy="763.4" rx="2.6" ry="3.4" fill="#fff"/><path d="M757,764.5L751.8,768.9L745.4,766.6L744.2,759.9L749.4,755.5L755.8,757.8Z" fill="#fff"/><path d="M759.2,763.5L754,767.9L747.6,765.6L746.4,758.9L751.6,754.5L758,756.8Z" fill="#fff"/><path d="M751.8,756.4 A5.4,5.4 0 0 0 751.8,766.6" fill="none" stroke-width="0.7"/>
<path d="M741,763.6 L746.4,761.6" fill="none" stroke-width="2.2"/>
<ellipse cx="752.8" cy="788.4" rx="6.2" ry="6.2" fill="#fff"/><ellipse cx="751.5" cy="788.7" rx="3.7" ry="3.8" fill="#fff"/><ellipse cx="751.5" cy="788.7" rx="2" ry="2.1" fill="#fff"/>
</g>
<g fill="#fff" stroke="#000" stroke-width="1.12" stroke-linejoin="round" stroke-linecap="round">
<path d="M678.7,708.3 L684.6,704.5 L732.2,726.6 L726.2,728.8Z"/>
<path d="M650,716.2 Q650.2,713 652.2,712 L670.6,706.6 L676,708.4 L676,760 L657,767.2 L652,765.4 Q650,764.4 650,762Z"/>
<path d="M657,714.2 V767 M652.2,712 L657,714.2 L676,708.6" fill="none" stroke-width="0.8"/>
<path d="M668.4,720.6 Q668.6,717.4 671,716.6 L681,713.2 L688,716 V768 L671,772.6 L668.4,770.6Z"/>
<path d="M670.6,718.4 V772 M671,716.6 L676,718.8 L686,715.6" fill="none" stroke-width="0.8"/>
<path d="M679.8,726 Q680,722.8 682.4,722 L692,718.6 L698,721 V772 L682.4,777 L679.8,775Z"/>
<path d="M681.6,724 V776.4 M682.4,722 L687,724 L696,721" fill="none" stroke-width="0.8"/>
<path d="M659.2,734.8 L687.9,747.7 V761.2 L659.2,748.8Z"/>
<path d="M688.4,736 Q688.6,732.4 690.6,731.4 L727,725.6 L732.2,726.6 V772.6 C727,776 720,779 712,781.6 C704,784 700,784.6 695.4,784.5 L690.6,783 Q688.4,781.6 688.4,779Z"/>
<path d="M695.4,732.8 V784.4 M690.6,731.4 L695.4,732.8 L732.2,726.6" fill="none" stroke-width="0.8"/>
<path d="M722.5,739.6 L729.5,736.4 L740.8,740.7 V745.6 L736,743.4 L726.2,741.4Z"/>
<path d="M722.5,762.8 L738.2,761.8 V765.6 L725.2,766.6Z"/>
<path d="M740.8,745.6 V758 L738.2,761.8" fill="none" stroke-width="0.8"/>
<ellipse cx="730" cy="752.6" rx="5.4" ry="5.8" fill="none"/>
<ellipse cx="729.4" cy="752.8" rx="3.9" ry="4.3" fill="none"/>
<path d="M727.2,752.8 H731.6 M729.4,750.4 V755.2" fill="none" stroke-width="1.3"/>
</g>
<path d="M646,754 C648,764 654,774 664,777.6 C670,779 673,775 672,768" fill="none" stroke="#000" stroke-width="6.0" stroke-linecap="round"/><path d="M646,754 C648,764 654,774 664,777.6 C670,779 673,775 672,768" fill="none" stroke="#fff" stroke-width="3.9" stroke-linecap="round"/>
<path d="M688,781 C692,792 700,796 712,796.6 C724,797.2 730,792 738,794 C744,795.6 747,802 749.4,808" fill="none" stroke="#000" stroke-width="6.0" stroke-linecap="round"/><path d="M688,781 C692,792 700,796 712,796.6 C724,797.2 730,792 738,794 C744,795.6 747,802 749.4,808" fill="none" stroke="#fff" stroke-width="3.9" stroke-linecap="round"/>
<path d="M700,787 C706,790 716,790 724,788 C732,786 738,787 742,790" fill="none" stroke="#000" stroke-width="5.300000000000001" stroke-linecap="round"/><path d="M700,787 C706,790 716,790 724,788 C732,786 738,787 742,790" fill="none" stroke="#fff" stroke-width="3.2" stroke-linecap="round"/>
<g fill="none" stroke="#000" stroke-width="1" stroke-linecap="butt">
<path d="M647.8,750.7L465.2,806.3"/>
<path d="M760,820L599,870"/>
<path d="M472.8,803.8L609,867.5"/><path d="M472.8,803.8L486.8,814.1L489.6,807.9Z" fill="#000" stroke="none"/><path d="M609,867.5L595,857.2L592.2,863.4Z" fill="#000" stroke="none"/>
<path d="M656.5,902.5L610.2,916.3"/>
<path d="M727.5,936.3L682.5,950"/>
<path d="M615.3,915L687.5,948"/><path d="M615.3,915L628.4,924.7L631.3,918.6Z" fill="#000" stroke="none"/><path d="M687.5,948L674.4,938.3L671.5,944.4Z" fill="#000" stroke="none"/>
<path d="M695.6,655L695.6,730"/>
<path d="M818.7,618.8L818.7,748"/>
<path d="M695.6,661.3L818.7,625"/><path d="M695.6,661.3L712.9,659.8L710.9,653.2Z" fill="#000" stroke="none"/><path d="M818.7,625L801.4,626.5L803.4,633.1Z" fill="#000" stroke="none"/>
<path d="M818.7,697L901,672"/>
<path d="M816,924.4L905.7,899.6"/>
<path d="M890.5,673.6L890.5,903.8"/><path d="M890.5,673.6L886.9,689.6L894.1,689.6Z" fill="#000" stroke="none"/><path d="M890.5,903.8L894.1,887.8L886.9,887.8Z" fill="#000" stroke="none"/>
<path d="M736.2,937.4L791.2,963.4"/>
<path d="M819.7,912.6L877.7,939.7"/>
<path d="M789,962.4L872.2,937.6"/><path d="M789,962.4L805.3,961.1L803.4,954.6Z" fill="#000" stroke="none"/><path d="M872.2,937.6L855.9,938.9L857.8,945.4Z" fill="#000" stroke="none"/>
<path d="M737,952.6L817,988.3"/>
<path d="M819.7,903.5L926.4,953"/>
<path d="M806.2,983.2L919,949.2"/><path d="M806.2,983.2L822.5,981.8L820.5,975.3Z" fill="#000" stroke="none"/><path d="M919,949.2L902.7,950.6L904.7,957.1Z" fill="#000" stroke="none"/>
<path d="M726.4,938.4L750.6,980.4"/>
<path d="M726.4,938.4L731.7,955.6L738.6,951.6Z" fill="#000" stroke="none"/>
</g>
<g>
<text class="sans" transform="matrix(0.958 -0.287 0 1 747.8 641.8)" x="0" y="0" font-size="14.9" fill="#000">D</text>
<text class="sans" transform="matrix(0.91 0.41 -0.76 0.65 545.7 833.3)" x="0" y="0" font-size="14.9" fill="#000">A</text>
<text class="sans" transform="matrix(0.89 0.46 -0.6 0.52 558 839.9)" x="0" y="0" font-size="7.26" fill="#333">max</text>
<text class="sans" transform="matrix(0.88 0.47 -0.76 0.65 646 923.8)" x="0" y="0" font-size="14.9" fill="#000">F</text>
<text class="sans" transform="translate(881.2 797.3) rotate(-90) translate(-4.6 0) scale(0.86 1)" x="0" y="0" font-size="15.85" fill="#000">B</text>
<text class="sans" transform="translate(881.2 778.5) rotate(-90) translate(-5.4 0) scale(0.82 1)" x="0" y="0" font-size="7.26" fill="#333">max</text>
<text class="sans" transform="matrix(0.69 -0.3 0.76 0.65 818.3 948)" x="0" y="0" font-size="14.9" fill="#000">E</text>
<text class="sans" transform="matrix(0.69 -0.3 0.76 0.65 849 965.8)" x="0" y="0" font-size="14.9" fill="#000">C</text>
<text class="sans" transform="translate(688.5 1003.6) scale(0.7 1)" x="0" y="0" font-size="25" fill="#000">安装孔</text>
<text class="sans" x="744.7" y="1003.3" font-size="22.6" text-anchor="middle" fill="#000">:</text>
<text class="sans" transform="translate(764.5 1001.6) skewX(-18) scale(0.58 1)" x="0" y="0" font-size="20" text-anchor="middle" fill="#000">Φ</text>
<text transform="translate(775.7 1002.2) scale(0.37 1)" x="0" y="0" font-size="25" text-anchor="middle" fill="#000">G</text>
<text class="sans" x="784.5" y="1004.1" font-size="18" text-anchor="middle" fill="#000">*</text>
<text transform="translate(794.2 1002.2) scale(0.33 1)" x="0" y="0" font-size="25" text-anchor="middle" fill="#000">H</text>
</g>
</g>
</svg>
</body></html>
